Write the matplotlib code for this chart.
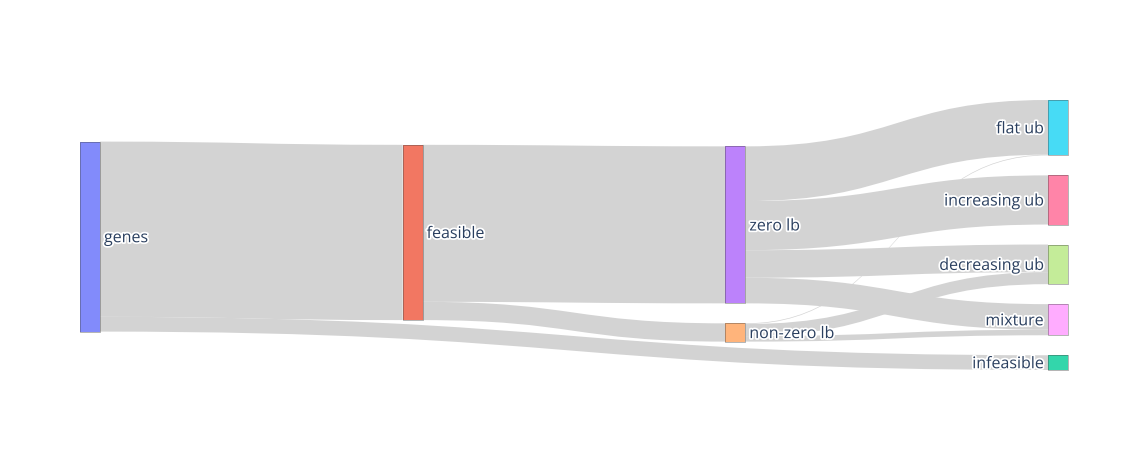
import matplotlib.pyplot as plt
from matplotlib.path import Path
from matplotlib.patches import PathPatch, Rectangle
import matplotlib.patheffects as pe

# nodes and links of the sankey
node_labels = ['genes', 'feasible', 'infeasible', 'zero lb', 'non-zero lb',
               'flat ub', 'increasing ub', 'decreasing ub', 'mixture']
node_colors = ['#636efa', '#EF553B', '#00cc96', '#ab63fa', '#FFA15A',
               '#19d3f3', '#FF6692', '#B6E880', '#FF97FF']
link_source = [0, 0, 1, 1, 3, 3, 3, 3, 4, 4, 4]
link_target = [1, 2, 3, 4, 5, 6, 7, 8, 5, 7, 8]
link_value = [1747, 147, 1565, 182, 545, 490, 275, 255, 7, 120, 55]

W, H = 1148, 450
left, right, top, bottom = 80, 80, 100, 80
pad = 20
thick = 20
iterations = 50
link_color = '#d3d3d3'
font_px = 16

n_nodes = len(node_labels)
n_links = len(link_value)

# --- sankey layout (d3-sankey style, justified) ---
src_links = [[] for _ in range(n_nodes)]
tgt_links = [[] for _ in range(n_nodes)]
for i in range(n_links):
	src_links[link_source[i]].append(i)
	tgt_links[link_target[i]].append(i)

value = []
for k in range(n_nodes):
	vin = sum(link_value[i] for i in tgt_links[k])
	vout = sum(link_value[i] for i in src_links[k])
	value.append(max(vin, vout))

depth = [0] * n_nodes
current = [k for k in range(n_nodes) if not tgt_links[k]]
d = 0
while current:
	nxt = []
	for k in current:
		depth[k] = d
		for i in src_links[k]:
			if link_target[i] not in nxt:
				nxt.append(link_target[i])
	current = nxt
	d += 1
n_col = d
col = [depth[k] if src_links[k] else n_col - 1 for k in range(n_nodes)]

x0 = left
x1 = W - right
y_top = top
y_bot = H - bottom
kx = (x1 - x0 - thick) / (n_col - 1)
nx = [x0 + col[k] * kx for k in range(n_nodes)]
columns = [[k for k in range(n_nodes) if col[k] == c] for c in range(n_col)]

ky = min((y_bot - y_top - (len(c) - 1) * pad) / sum(value[k] for k in c) for c in columns)
ny0 = [0.0] * n_nodes
ny1 = [0.0] * n_nodes
for c in columns:
	for i, k in enumerate(c):
		ny0[k] = i
		ny1[k] = i + value[k] * ky
link_w = [v * ky for v in link_value]

def center(k):
	return (ny0[k] + ny1[k]) / 2

def resolve():
	for c in columns:
		c.sort(key=lambda k: ny0[k])
		y = y_top
		for k in c:
			dy = y - ny0[k]
			if dy > 0:
				ny0[k] += dy
				ny1[k] += dy
			y = ny1[k] + pad
		dy = y - pad - y_bot
		if dy > 0:
			k = c[-1]
			ny0[k] -= dy
			ny1[k] -= dy
			y = ny0[k]
			for k in reversed(c[:-1]):
				dy = ny1[k] + pad - y
				if dy > 0:
					ny0[k] -= dy
					ny1[k] -= dy
				y = ny0[k]

resolve()
alpha = 1.0
for it in range(iterations):
	alpha *= 0.99
	for c in reversed(columns):
		for k in c:
			if src_links[k]:
				s = sum(center(link_target[i]) * link_value[i] for i in src_links[k])
				dy = (s / sum(link_value[i] for i in src_links[k]) - center(k)) * alpha
				ny0[k] += dy
				ny1[k] += dy
	resolve()
	for c in columns:
		for k in c:
			if tgt_links[k]:
				s = sum(center(link_source[i]) * link_value[i] for i in tgt_links[k])
				dy = (s / sum(link_value[i] for i in tgt_links[k]) - center(k)) * alpha
				ny0[k] += dy
				ny1[k] += dy
	resolve()

# link breadths
ly0 = [0.0] * n_links
ly1 = [0.0] * n_links
for k in range(n_nodes):
	y = ny0[k]
	for i in sorted(src_links[k], key=lambda i: (ny0[link_target[i]], i)):
		ly0[i] = y
		y += link_w[i]
	y = ny0[k]
	for i in sorted(tgt_links[k], key=lambda i: (ny0[link_source[i]], i)):
		ly1[i] = y
		y += link_w[i]

# --- drawing ---
fig = plt.figure(figsize=(W / 100, H / 100), dpi=100)
ax = fig.add_axes([0, 0, 1, 1])
ax.set_xlim(0, W)
ax.set_ylim(H, 0)
ax.axis('off')

for i in range(n_links):
	xa = nx[link_source[i]] + thick
	xb = nx[link_target[i]]
	xm = (xa + xb) / 2
	ya, yb, w = ly0[i], ly1[i], link_w[i]
	verts = [(xa, ya), (xm, ya), (xm, yb), (xb, yb),
	         (xb, yb + w), (xm, yb + w), (xm, ya + w), (xa, ya + w), (xa, ya)]
	codes = [Path.MOVETO, Path.CURVE4, Path.CURVE4, Path.CURVE4,
	         Path.LINETO, Path.CURVE4, Path.CURVE4, Path.CURVE4, Path.CLOSEPOLY]
	ax.add_patch(PathPatch(Path(verts, codes), facecolor=link_color, edgecolor='none', lw=0))

shadow = [pe.withStroke(linewidth=2.5, foreground='white')]
for k in range(n_nodes):
	ax.add_patch(Rectangle((nx[k], ny0[k]), thick, ny1[k] - ny0[k],
	                       facecolor=node_colors[k], alpha=0.8, edgecolor='none'))
	ax.add_patch(Rectangle((nx[k], ny0[k]), thick, ny1[k] - ny0[k],
	                       facecolor='none', edgecolor='#444444', lw=0.4, alpha=0.7))
	if col[k] == n_col - 1:
		tx, ha = nx[k] - 4, 'right'
	else:
		tx, ha = nx[k] + thick + 4, 'left'
	# baseline sits 0.35em below the node centre
	ax.text(tx, center(k) + 0.35 * font_px, node_labels[k], ha=ha, va='baseline',
	        fontsize=font_px * 0.72, family='Open Sans', color='#2a3f5f',
	        path_effects=shadow)

plt.savefig('out.png', dpi=100)
